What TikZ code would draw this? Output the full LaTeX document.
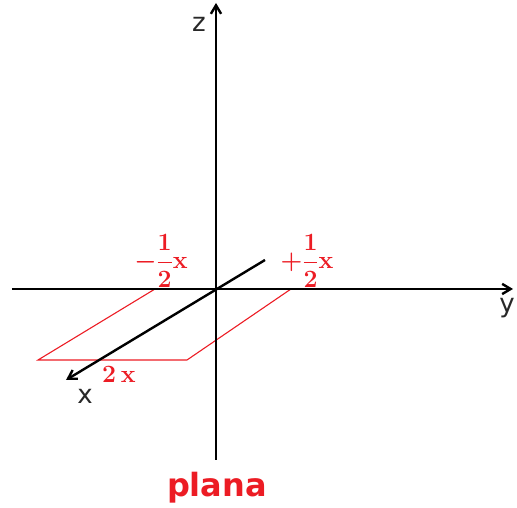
\documentclass[tikz,border=0pt]{standalone}
\usepackage{fontspec}
\usepackage{amsmath}
\setsansfont{DejaVu Sans}
\usetikzlibrary{arrows.meta}
\definecolor{PlaneRed}{RGB}{236,28,36}
\definecolor{AxisGrey}{RGB}{40,40,40}
\tikzset{
  axis/.style={-{Straight Barb[length=3mm,width=3.6mm]},line width=2.4pt,draw=black},
  planeedge/.style={draw=PlaneRed,line width=1.1pt},
  axislabel/.style={font=\sffamily\fontsize{26}{28}\selectfont,text=AxisGrey,inner sep=0pt},
  redlabel/.style={text=PlaneRed,inner sep=0pt,font=\fontsize{23}{25}\selectfont\boldmath}
}

\begin{document}
\begin{tikzpicture}[x=1pt,y=1pt]
  \useasboundingbox (-216,-219) rectangle (301,289);
  % the plane (under the axes)
  \coordinate (pa) at (-61,0);
  \coordinate (pb) at (75,0);
  \coordinate (pc) at (-29,-71);
  \coordinate (pd) at (-178,-71);
  \draw[planeedge] (pa) -- (pb) -- (pc) -- (pd) -- cycle;

  % axes
  \coordinate (o) at (0,0);
  \coordinate (zlow) at (0,-171);
  \coordinate (ztop) at (0,286);
  \coordinate (yleft) at (-204,0);
  \coordinate (yright) at (297,0);
  \coordinate (xback) at (49,29);
  \coordinate (xfront) at (-150,-91);
  \draw[axis] (zlow) -- (ztop);
  \draw[axis] (yleft) -- (yright);
  \draw[axis] (xback) -- (xfront);

  \node[axislabel] (zlabel) at (-17,265) {z};
  \node[axislabel] (ylabel) at (291,-19) {y};
  \node[axislabel] (xlabel) at (-131,-107) {x};

  \node[redlabel] (minushalf) at (-55,28) {$-\dfrac{1}{2}\mathbf{x}$};
  \node[redlabel] (plushalf) at (91,28) {$+\dfrac{1}{2}\mathbf{x}$};
  \node[redlabel,font=\fontsize{25}{27}\selectfont\boldmath] (twox) at (-97,-85) {$2\,\mathbf{x}$};

  \node[text=PlaneRed,font=\sffamily\bfseries\fontsize{32}{34}\selectfont,inner sep=0pt] (plana) at (1,-199) {plana};
\end{tikzpicture}
\end{document}
